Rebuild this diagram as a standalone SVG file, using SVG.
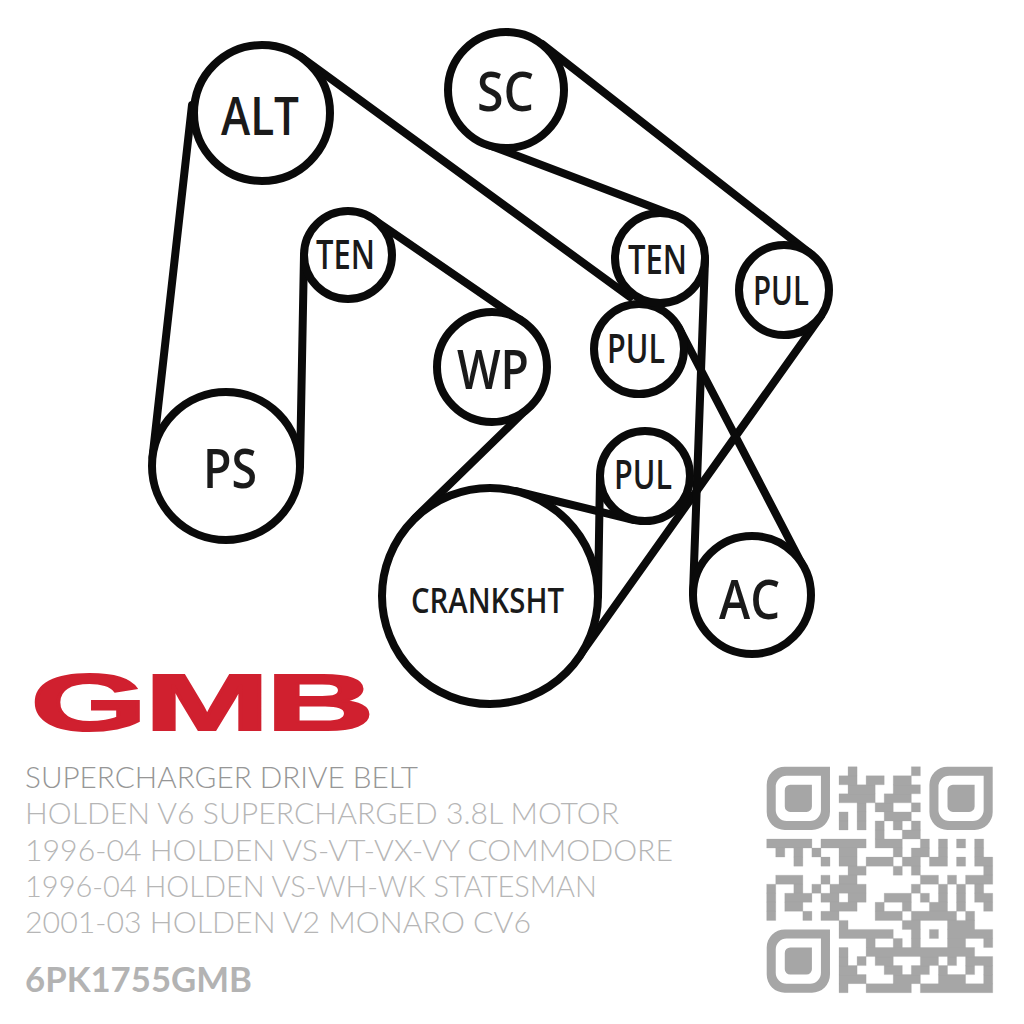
<svg xmlns="http://www.w3.org/2000/svg" width="1024" height="1024" viewBox="0 0 1024 1024">
<style>
.node circle{fill:#fff;stroke:#0a0a0a;stroke-width:8}
.node text{font-family:"Open Sans","Noto Sans",sans-serif;font-weight:600;fill:#1a1a1a;text-anchor:start}
#connectors line{stroke:#0a0a0a;stroke-width:8;stroke-linecap:round}
.info{font-family:Lato,"Liberation Sans",sans-serif;font-weight:300;font-size:29px;fill:#b6b6b6}
.qr{fill:#a6a6a6}
</style>
<defs>
<path id="finder" fill-rule="evenodd" d="M2 0H7V5A2 2 0 0 1 5 7H2A2 2 0 0 1 0 5V2A2 2 0 0 1 2 0ZM2.2 1A1.2 1.2 0 0 0 1 2.2V4.8A1.2 1.2 0 0 0 2.2 6H4.8A1.2 1.2 0 0 0 6 4.8V1ZM2.6 2H5V4.4A.6 .6 0 0 1 4.4 5H2.6A.6 .6 0 0 1 2 4.4V2.6A.6 .6 0 0 1 2.6 2Z"/>
</defs>
<rect width="1024" height="1024" fill="#fff"/>
<g id="connectors">
<line x1="192" y1="105" x2="152.5" y2="457"/>
<line x1="300" y1="466" x2="304" y2="255"/>
<line x1="373" y1="219" x2="523" y2="322"/>
<line x1="530" y1="406" x2="415" y2="518"/>
<line x1="515" y1="491" x2="634" y2="520"/>
<line x1="600" y1="476" x2="598" y2="596"/>
<line x1="578" y1="658" x2="821" y2="316"/>
<line x1="705" y1="260" x2="693" y2="593"/>
<line x1="679" y1="328" x2="804" y2="568"/>
<line x1="542" y1="44" x2="812" y2="255"/>
<line x1="486" y1="144" x2="676" y2="216"/>
<line x1="301" y1="57" x2="630" y2="297"/>
</g>
<g id="node-alt" class="node"><circle cx="262" cy="113" r="68"/><text x="221" y="135" font-size="52" textLength="78" lengthAdjust="spacingAndGlyphs">ALT</text></g>
<g id="node-sc" class="node"><circle cx="506" cy="90" r="58"/><text x="477" y="111" font-size="54" textLength="57" lengthAdjust="spacingAndGlyphs">SC</text></g>
<g id="node-ten1" class="node"><circle cx="348" cy="255" r="44"/><text x="316" y="269" font-size="40" textLength="59" lengthAdjust="spacingAndGlyphs">TEN</text></g>
<g id="node-pul2" class="node"><circle cx="639" cy="349" r="45"/><text x="607" y="363" font-size="39" textLength="58" lengthAdjust="spacingAndGlyphs">PUL</text></g>
<g id="node-ten2" class="node"><circle cx="660" cy="258" r="45"/><text x="628" y="274" font-size="40" textLength="59" lengthAdjust="spacingAndGlyphs">TEN</text></g>
<g id="node-pul1" class="node"><circle cx="784" cy="290" r="45"/><text x="753" y="305" font-size="39" textLength="56" lengthAdjust="spacingAndGlyphs">PUL</text></g>
<g id="node-wp" class="node"><circle cx="492" cy="367" r="55"/><text x="457" y="389" font-size="54" textLength="72" lengthAdjust="spacingAndGlyphs">WP</text></g>
<g id="node-pul3" class="node"><circle cx="645" cy="476" r="45"/><text x="614" y="489" font-size="39" textLength="58" lengthAdjust="spacingAndGlyphs">PUL</text></g>
<g id="node-ps" class="node"><circle cx="226" cy="466" r="74"/><text x="203" y="488" font-size="54" textLength="54" lengthAdjust="spacingAndGlyphs">PS</text></g>
<g id="node-crank" class="node"><circle cx="490" cy="596" r="108"/><text x="411" y="613" font-size="35" textLength="153" lengthAdjust="spacingAndGlyphs">CRANKSHT</text></g>
<g id="node-ac" class="node"><circle cx="752" cy="595" r="59"/><text x="719" y="619" font-size="54" textLength="61" lengthAdjust="spacingAndGlyphs">AC</text></g>
<text id="logo" transform="translate(0 730) scale(1.9 1)" x="16 76 140" font-family="'Liberation Sans',Arial,sans-serif" font-weight="700" font-size="79" fill="#d0202f" stroke="#d0202f" stroke-width="2">GMB</text>
<g id="info">
<text class="info" x="25" y="788" textLength="393" lengthAdjust="spacingAndGlyphs" style="fill:#969696">SUPERCHARGER DRIVE BELT</text>
<text class="info" x="25" y="824" textLength="594" lengthAdjust="spacingAndGlyphs">HOLDEN V6 SUPERCHARGED 3.8L MOTOR</text>
<text class="info" x="25" y="861" textLength="648" lengthAdjust="spacingAndGlyphs">1996-04 HOLDEN VS-VT-VX-VY COMMODORE</text>
<text class="info" x="25" y="897" textLength="572" lengthAdjust="spacingAndGlyphs">1996-04 HOLDEN VS-WH-WK STATESMAN</text>
<text class="info" x="25" y="933" textLength="506" lengthAdjust="spacingAndGlyphs">2001-03 HOLDEN V2 MONARO CV6</text>
<text x="25" y="992" textLength="227" lengthAdjust="spacingAndGlyphs" font-family="Lato,'Liberation Sans',sans-serif" font-weight="700" font-size="34" fill="#b3b3b3">6PK1755GMB</text>
</g>
<g id="qr" class="qr" transform="translate(766.7 766.7) scale(9.04)">
<use href="#finder"/><use href="#finder" x="18"/><use href="#finder" y="18"/>
<path stroke="#a6a6a6" stroke-width=".03" d="M9 0h1v1h-1zM16 0h1v1h-1z
M8 1h2v1h-2zM11 1h2v1h-2zM14 1h2v1h-2z
M9 2h3v1h-3zM14 2h3v1h-3z
M8 3h4v1h-4zM13 3h3v1h-3z
M10 4h1v1h-1zM12 4h2v1h-2zM16 4h1v1h-1z
M8 5h1v1h-1zM10 5h1v1h-1zM13 5h3v1h-3z
M8 6h1v1h-1zM10 6h1v1h-1zM12 6h1v1h-1zM14 6h1v1h-1zM16 6h1v1h-1z
M12 7h1v1h-1zM15 7h2v1h-2z
M0 8h5v1h-5zM6 8h5v1h-5zM12 8h3v1h-3zM17 8h1v1h-1zM19 8h1v1h-1zM21 8h1v1h-1zM23 8h1v1h-1z
M1 9h1v1h-1zM3 9h1v1h-1zM5 9h1v1h-1zM8 9h2v1h-2zM14 9h1v1h-1zM16 9h2v1h-2zM19 9h1v1h-1zM23 9h1v1h-1z
M3 10h1v1h-1zM6 10h1v1h-1zM8 10h2v1h-2zM11 10h3v1h-3zM15 10h2v1h-2zM18 10h2v1h-2zM21 10h1v1h-1zM23 10h2v1h-2z
M9 11h2v1h-2zM14 11h1v1h-1zM16 11h1v1h-1zM24 11h1v1h-1z
M1 12h3v1h-3zM6 12h1v1h-1zM8 12h2v1h-2zM17 12h2v1h-2zM20 12h1v1h-1zM22 12h3v1h-3z
M0 13h1v1h-1zM3 13h1v1h-1zM5 13h1v1h-1zM7 13h4v1h-4zM16 13h1v1h-1zM19 13h1v1h-1zM21 13h1v1h-1zM23 13h1v1h-1z
M0 14h1v1h-1zM2 14h3v1h-3zM6 14h2v1h-2zM9 14h2v1h-2zM13 14h3v1h-3zM17 14h1v1h-1zM19 14h1v1h-1zM21 14h1v1h-1zM23 14h2v1h-2z
M0 15h1v1h-1zM2 15h2v1h-2zM7 15h3v1h-3zM12 15h1v1h-1zM15 15h1v1h-1zM18 15h2v1h-2zM21 15h1v1h-1zM24 15h1v1h-1z
M0 16h1v1h-1zM4 16h1v1h-1zM6 16h2v1h-2zM12 16h3v1h-3zM16 16h5v1h-5zM22 16h1v1h-1z
M8 17h1v1h-1zM15 17h2v1h-2zM20 17h3v1h-3z
M8 18h6v1h-6zM16 18h1v1h-1zM18 18h1v1h-1zM20 18h5v1h-5z
M11 19h1v1h-1zM14 19h1v1h-1zM16 19h1v1h-1zM20 19h2v1h-2zM24 19h1v1h-1z
M8 20h1v1h-1zM11 20h12v1h-12z
M8 21h1v1h-1zM10 21h1v1h-1zM12 21h2v1h-2zM17 21h2v1h-2zM20 21h1v1h-1zM22 21h3v1h-3z
M8 22h2v1h-2zM13 22h2v1h-2zM16 22h2v1h-2zM19 22h1v1h-1zM22 22h1v1h-1zM24 22h1v1h-1z
M8 23h3v1h-3zM14 23h3v1h-3zM19 23h3v1h-3zM24 23h1v1h-1z
M8 24h1v1h-1zM11 24h5v1h-5zM17 24h8v1h-8z"/>
</g>
</svg>
